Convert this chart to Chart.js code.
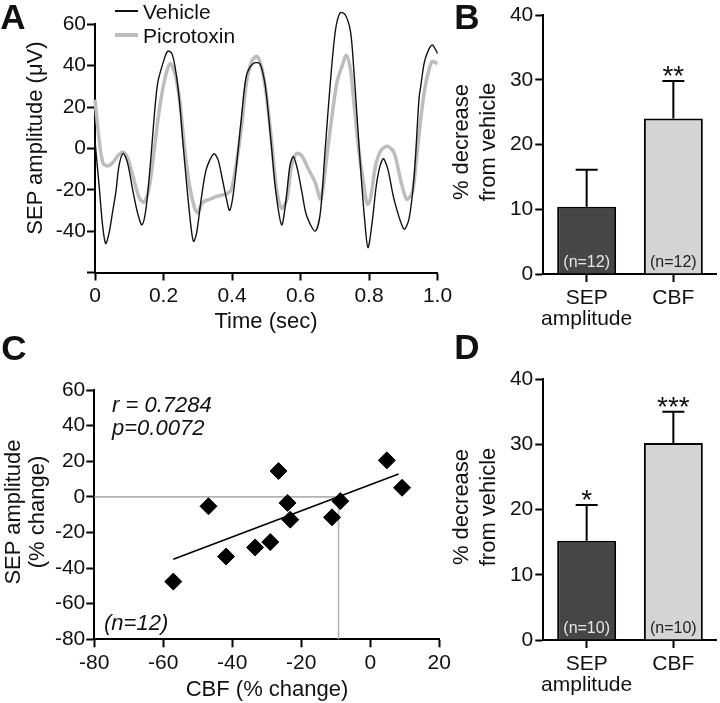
<!DOCTYPE html>
<html>
<head>
<meta charset="utf-8">
<script src="https://cdn.jsdelivr.net/npm/chart.js@4/dist/chart.umd.min.js"></script>
<style>
  body { margin: 0; background: #fff; }
  #fig { position: relative; width: 720px; height: 703px; overflow: hidden; font-family: "Liberation Sans", Arial, sans-serif; color: #111; }
  #fig canvas { position: absolute; }
  .txt { position: absolute; white-space: nowrap; line-height: 1; z-index: 2; }
</style>
</head>
<body>
<div id="fig">
  <canvas id="chartA" width="460" height="340" style="left:0;top:0"></canvas>
  <canvas id="chartB" width="290" height="340" style="left:430px;top:0"></canvas>
  <canvas id="chartC" width="460" height="363" style="left:0;top:340px"></canvas>
  <canvas id="chartD" width="290" height="363" style="left:430px;top:340px"></canvas>
</div>
<script>
// --- Panel A: SEP traces (time in sec, amplitude in uV) ---
const vehicleTime = [0, 0.012, 0.022, 0.031, 0.041, 0.051, 0.061, 0.070, 0.082, 0.095, 0.110, 0.124, 0.137, 0.149, 0.163, 0.173, 0.183, 0.198, 0.212, 0.225, 0.237, 0.247, 0.256, 0.268, 0.281, 0.288, 0.297, 0.310, 0.325, 0.347, 0.359, 0.372, 0.384, 0.393, 0.403, 0.415, 0.428, 0.442, 0.462, 0.481, 0.496, 0.506, 0.516, 0.528, 0.545, 0.558, 0.569, 0.579, 0.591, 0.604, 0.618, 0.643, 0.658, 0.672, 0.687, 0.702, 0.716, 0.731, 0.746, 0.755, 0.765, 0.775, 0.787, 0.797, 0.809, 0.824, 0.841, 0.855, 0.873, 0.902, 0.917, 0.932, 0.946, 0.951, 0.962, 0.975, 0.985, 1.0];
const vehicleAmp = [3.5, -18, -37, -46, -41, -31, -21, -8.5, -2.4, -7, -20, -31, -37, -29, -5, 15.6, 31.6, 41, 47, 45.7, 36, 22, 4.3, -18, -39, -45, -40.6, -24.6, -10, -2.6, -5.3, -15, -24.6, -30, -23, -5.3, 15.6, 35, 41, 41, 31.6, 17, -0.5, -21, -37, -24.6, -8.5, -4, -10, -21, -32.6, -40, -31, -0.5, 31.6, 57, 65.6, 64.5, 56.5, 39.6, 15.6, -8.5, -34, -48, -36, -15, -5, -10, -24.6, -39, -34, -13, 24, 30, 42, 48, 50, 46];
const picroTime = [0, 0.012, 0.023, 0.036, 0.051, 0.066, 0.082, 0.095, 0.110, 0.129, 0.144, 0.159, 0.173, 0.188, 0.203, 0.219, 0.232, 0.247, 0.261, 0.276, 0.291, 0.300, 0.315, 0.335, 0.359, 0.384, 0.398, 0.413, 0.428, 0.442, 0.457, 0.472, 0.486, 0.501, 0.516, 0.530, 0.545, 0.560, 0.574, 0.589, 0.604, 0.623, 0.643, 0.658, 0.667, 0.677, 0.692, 0.706, 0.721, 0.734, 0.746, 0.755, 0.770, 0.785, 0.795, 0.804, 0.819, 0.834, 0.853, 0.873, 0.892, 0.910, 0.927, 0.941, 0.951, 0.962, 0.975, 0.985, 1.0];
const picroAmp = [23.6, 4.3, -7, -8.5, -7, -3.7, -1.8, -4.5, -13, -23.8, -26, -18, -0.5, 18.8, 33, 41, 37, 23.6, 1, -18, -29, -31, -26, -24.6, -23, -22, -20, -7, 10.8, 31.6, 42, 44.5, 39.6, 25, 2.7, -19.7, -29, -24.6, -8.5, -2.4, -3.7, -10, -16.5, -24.6, -18, -3.7, 15.6, 31.6, 39.6, 45, 38, 23.6, -0.5, -18, -27, -24.6, -8.5, -1.3, 1, -2, -15, -24.6, -21, -1, 14, 28, 38, 42, 41];
const timeTicks = [0, 0.2, 0.4, 0.6, 0.8, 1.0];
const ampTicks = [-60, -40, -20, 0, 20, 40, 60];

// --- Panel B: % decrease from vehicle (picrotoxin) ---
const barLabels = [['SEP', 'amplitude'], 'CBF'];
const meanB = [10.4, 24.0];
const semB = [5.7, 5.8];
const starsB = ['', '**'];
const countB = ['(n=12)', '(n=12)'];

// --- Panel C: correlation CBF vs SEP ---
const cbfChange = [-57.1, -46.9, -41.8, -33.4, -29.0, -26.6, -24.0, -23.2, -11.1, -8.7, 4.8, 9.2];
const sepChange = [-47.6, -5.3, -33.5, -28.4, -25.4, 14.5, -3.4, -12.8, -11.5, -2.4, 20.5, 5.1];
const fitX = [-57.1, 8.2];
const fitY = [-35.0, 12.8];
const refX = [-80, -9.2, -9.2];
const refY = [0, 0, -80];
const cbfTicks = [-80, -60, -40, -20, 0, 20];
const sepTicks = [-80, -60, -40, -20, 0, 20, 40, 60];

// --- Panel D: % decrease from vehicle ---
const meanD = [15.2, 30.2];
const semD = [5.5, 4.8];
const starsD = ['*', '***'];
const countD = ['(n=10)', '(n=10)'];
const pctTicks = [0, 10, 20, 30, 40];

const FONT = '"Liberation Sans", Arial, sans-serif';
const barFills = ['#464646', '#d4d4d4'];
const countColors = ['#e6e6e6', '#222'];

function pts(xs, ys) {
    return xs.map((x, i) => ({ x: x, y: ys[i] }));
}

function tickFont() {
    return { family: FONT, size: 21, lineHeight: 1 };
}

// common axis look: black border, outward tick marks, no grid
function axis(extra) {
    return Object.assign({
        border: { color: '#000', width: 2 },
        grid: { drawOnChartArea: false, drawTicks: true, tickLength: 8, tickWidth: 2, tickColor: '#000' },
        ticks: { font: tickFont(), color: '#111', padding: 2, autoSkip: false, maxRotation: 0 }
    }, extra);
}

function fixedTicks(list) {
    return scale => { scale.ticks = list.map(v => ({ value: v })); };
}

// error bars, stars and n-labels on the bar panels
const barExtras = {
    id: 'barExtras',
    afterDatasetsDraw(chart) {
        const ctx = chart.ctx;
        const yScale = chart.scales.y;
        const o = chart.options.plugins.barExtras;
        chart.getDatasetMeta(0).data.forEach((bar, i) => {
            const capY = yScale.getPixelForValue(o.means[i] + o.sems[i]);
            ctx.save();
            ctx.strokeStyle = '#000';
            ctx.lineWidth = 2;
            ctx.beginPath();
            ctx.moveTo(bar.x, bar.y);
            ctx.lineTo(bar.x, capY);
            ctx.moveTo(bar.x - 11, capY);
            ctx.lineTo(bar.x + 11, capY);
            ctx.stroke();

            ctx.fillStyle = '#111';
            ctx.textAlign = 'center';
            ctx.textBaseline = 'alphabetic';
            ctx.font = '28px ' + FONT;
            ctx.fillText(o.stars[i], bar.x, capY + 4);

            ctx.font = '16px ' + FONT;
            ctx.textBaseline = 'middle';
            ctx.fillStyle = countColors[i];
            ctx.fillText(o.counts[i], bar.x, bar.base - 11);
            ctx.restore();
        });
    }
};

function barChart(id, means, sems, stars, counts, pad, xHeight) {
    return new Chart(document.getElementById(id), {
        type: 'bar',
        data: {
            labels: barLabels,
            datasets: [{
                data: means,
                backgroundColor: barFills,
                borderColor: '#000',
                borderWidth: 2,
                borderSkipped: 'bottom',
                barPercentage: 0.68,
                categoryPercentage: 1
            }]
        },
        options: {
            responsive: false,
            animation: false,
            devicePixelRatio: 1,
            layout: { padding: pad },
            plugins: {
                legend: { display: false },
                tooltip: { enabled: false },
                barExtras: { means: means, sems: sems, stars: stars, counts: counts }
            },
            scales: {
                x: axis({
                    grid: { offset: false, drawOnChartArea: false, tickLength: 8, tickWidth: 2, tickColor: '#000' },
                    ticks: { font: tickFont(), color: '#111', padding: 6, maxRotation: 0, autoSkip: false },
                    afterFit: s => { s.height = xHeight; }
                }),
                y: axis({
                    min: 0, max: 40,
                    afterBuildTicks: fixedTicks(pctTicks),
                    afterFit: s => { s.width = 113.3; }
                })
            }
        },
        plugins: [barExtras]
    });
}

function addText(text, x, y, style, anchor) {
    const el = document.createElement('div');
    el.className = 'txt';
    el.innerHTML = text;
    el.style.left = x + 'px';
    el.style.top = y + 'px';
    el.style.transform = anchor || 'translate(-50%, -50%)';
    Object.assign(el.style, style || {});
    document.getElementById('fig').appendChild(el);
    return el;
}

document.addEventListener('DOMContentLoaded', () => {

    // --- 1. Panel A: traces ---
    new Chart(document.getElementById('chartA'), {
        type: 'line',
        data: {
            datasets: [
                { label: 'Vehicle', data: pts(vehicleTime, vehicleAmp), borderColor: '#111', borderWidth: 1.4, pointRadius: 0, tension: 0.3, clip: false },
                { label: 'Picrotoxin', data: pts(picroTime, picroAmp), borderColor: '#bdbdbd', borderWidth: 3.5, pointRadius: 0, tension: 0.3, clip: false }
            ]
        },
        options: {
            responsive: false,
            animation: false,
            devicePixelRatio: 1,
            parsing: false,
            layout: { padding: { left: 0, top: 24.3, right: 22.5, bottom: 0 } },
            plugins: { legend: { display: false }, tooltip: { enabled: false } },
            scales: {
                x: axis({
                    type: 'linear', min: 0, max: 1,
                    afterBuildTicks: fixedTicks(timeTicks),
                    afterFit: s => { s.height = 67.5; },
                    ticks: { font: tickFont(), color: '#111', padding: 5, maxRotation: 0, callback: v => v === 0 ? '0' : v.toFixed(1) }
                }),
                y: axis({
                    min: -60, max: 60,
                    afterBuildTicks: fixedTicks(ampTicks),
                    afterFit: s => { s.width = 95; },
                    ticks: { font: tickFont(), color: '#111', padding: 1, callback: v => v === -60 ? '' : v }
                })
            }
        }
    });

    // --- 2. Panels B and D: bars ---
    barChart('chartB', meanB, semB, starsB, countB, { left: 0, top: 15, right: 3.3, bottom: 0 }, 66);
    barChart('chartD', meanD, semD, starsD, countD, { left: 0, top: 39, right: 3.3, bottom: 0 }, 63);

    // --- 3. Panel C: scatter with fit ---
    new Chart(document.getElementById('chartC'), {
        type: 'scatter',
        data: {
            datasets: [
                { data: pts(cbfChange, sepChange), pointStyle: 'rectRot', pointRadius: 8.5, backgroundColor: '#000', borderColor: '#000', borderWidth: 1 },
                { data: pts(fitX, fitY), showLine: true, borderColor: '#000', borderWidth: 1.6, pointRadius: 0 },
                { data: pts(refX, refY), showLine: true, borderColor: '#b3b3b3', borderWidth: 1.6, pointRadius: 0 }
            ]
        },
        options: {
            responsive: false,
            animation: false,
            devicePixelRatio: 1,
            layout: { padding: { left: 0, top: 50, right: 20.7, bottom: 0 } },
            plugins: { legend: { display: false }, tooltip: { enabled: false } },
            scales: {
                x: axis({
                    min: -80, max: 20,
                    afterBuildTicks: fixedTicks(cbfTicks),
                    afterFit: s => { s.height = 63.7; },
                    ticks: { font: tickFont(), color: '#111', padding: 5, maxRotation: 0 }
                }),
                y: axis({
                    min: -80, max: 60,
                    afterBuildTicks: fixedTicks(sepTicks),
                    afterFit: s => { s.width = 94.3; },
                    ticks: { font: tickFont(), color: '#111', padding: 1 }
                })
            }
        }
    });

    // --- 4. Text: panel letters, titles, legend, stats ---
    const big = { fontSize: '35px', fontWeight: 'bold' };
    addText('A', 13, 16, big);
    addText('B', 467, 16, big);
    addText('C', 14, 347, big);
    addText('D', 467, 346, big);

    const title = { fontSize: '22px' };
    const rot = 'translate(-50%, -50%) rotate(-90deg)';
    addText('SEP amplitude (&mu;V)', 35, 138, title, rot);
    addText('Time (sec)', 266, 321, title);
    addText('% decrease<br>from vehicle', 474, 142, { fontSize: '22px', lineHeight: '27px', textAlign: 'center' }, rot);
    addText('% decrease<br>from vehicle', 474, 507, { fontSize: '22px', lineHeight: '27px', textAlign: 'center' }, rot);
    addText('SEP amplitude<br>(% change)', 25, 512, { fontSize: '22px', lineHeight: '24px', textAlign: 'center' }, rot);
    addText('CBF (% change)', 267, 689, title);

    // legend for panel A
    const leg = { fontSize: '21px' };
    addText('', 115, 11, { width: '23px', height: '2px', background: '#111' }, 'translate(0, -50%)');
    addText('Vehicle', 143, 11, leg, 'translate(0, -50%)');
    addText('', 115, 35, { width: '23px', height: '4px', background: '#bdbdbd' }, 'translate(0, -50%)');
    addText('Picrotoxin', 143, 35, leg, 'translate(0, -50%)');

    // stats for panel C
    const ital = { fontSize: '22px', fontStyle: 'italic' };
    addText('r = 0.7284', 112, 405, ital, 'translate(0, -50%)');
    addText('p=0.0072', 112, 428, ital, 'translate(0, -50%)');
    addText('(n=12)', 104, 623, ital, 'translate(0, -50%)');
});
</script>
</body>
</html>
